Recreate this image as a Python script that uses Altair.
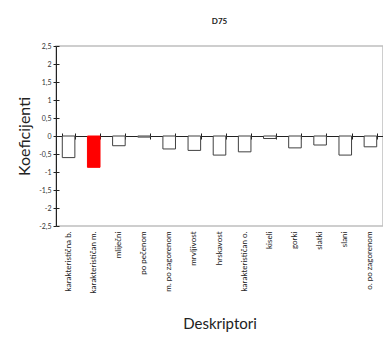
import altair as alt
import pandas as pd

categories = ["karakteristična b.", "karakterističan m.", "mliječni", "po pečenom",
              "m. po zagorenom", "mrvljivost", "hrskavost", "karakterističan o.",
              "kiseli", "gorki", "slatki", "slani", "o. po zagorenom"]
values = [-0.6, -0.87, -0.27, -0.03, -0.36, -0.4, -0.53, -0.44, -0.07, -0.33, -0.25, -0.53, -0.3]
groups = ["n", "h", "n", "n", "n", "n", "n", "n", "n", "n", "n", "n", "n"]
y_ticks = [2.5, 2, 1.5, 1, 0.5, 0, -0.5, -1, -1.5, -2, -2.5]

df = pd.DataFrame({"descriptor": categories, "value": values, "group": groups})

W, H = 327, 180
FONT = "Lato"
xscale = alt.Scale(paddingInner=0.5, paddingOuter=0.25)
yscale = alt.Scale(domain=[-2.5, 2.5], nice=False, zero=False)

bars = alt.Chart(df).mark_bar(strokeWidth=1).encode(
    x=alt.X("descriptor:N", sort=categories, scale=xscale,
            axis=alt.Axis(orient="bottom", labelAngle=-90, ticks=False, domain=False,
                          title="Deskriptori", titleFont=FONT, titleFontSize=15,
                          titleFontWeight="normal", titleColor="#222",
                          labelFont=FONT, labelFontSize=8, labelColor="#222",
                          labelPadding=5, titlePadding=24)),
    y=alt.Y("value:Q", scale=yscale,
            axis=alt.Axis(values=y_ticks, labelExpr="replace(toString(datum.value), '.', ',')",
                          tickSize=3, tickColor="#222", domainColor="#222",
                          labelFont=FONT, labelFontSize=7, labelColor="#333", labelPadding=2,
                          grid=False, title="Koeficijenti", titleFont=FONT, titleFontSize=16,
                          titleFontWeight="normal", titleColor="#222", titlePadding=6)),
    fill=alt.Fill("group:N", scale=alt.Scale(domain=["n", "h"], range=["white", "#ff0000"]), legend=None),
    stroke=alt.Stroke("group:N", scale=alt.Scale(domain=["n", "h"], range=["#404040", "#ff0000"]), legend=None),
)

zero_axis = alt.Chart(df).mark_bar(opacity=0).encode(
    x=alt.X("descriptor:N", sort=categories, scale=xscale,
            axis=alt.Axis(orient="bottom", offset=-H / 2, labels=False, title=None,
                          tickBand="extent", tickSize=3, tickColor="#222",
                          domainColor="#222", domainWidth=1)),
    y=alt.Y("value:Q", scale=yscale,
            axis=alt.Axis(orient="right", offset=-W, values=y_ticks, labels=False, title=None,
                          tickSize=3, tickColor="#222", domain=False, grid=False)),
)

zero_axis_top = alt.Chart(df).mark_bar(opacity=0).encode(
    x=alt.X("descriptor:N", sort=categories, scale=xscale,
            axis=alt.Axis(orient="top", offset=-H / 2, labels=False, title=None,
                          tickBand="extent", tickSize=3, tickColor="#222", domain=False)),
    y=alt.Y("value:Q", scale=yscale, axis=None),
)

chart = alt.layer(bars, zero_axis, zero_axis_top).resolve_axis(
    x="independent", y="independent"
).properties(
    width=W, height=H,
    title=alt.TitleParams("D75", font=FONT, fontSize=8, fontWeight="bold", color="#222", offset=16),
    padding={"left": 8, "top": 10, "right": 0, "bottom": 0},
).configure_view(stroke="#bfbfbf", strokeWidth=1.5)

chart.save("out.html", embed_options={"renderer": "svg", "actions": False})
